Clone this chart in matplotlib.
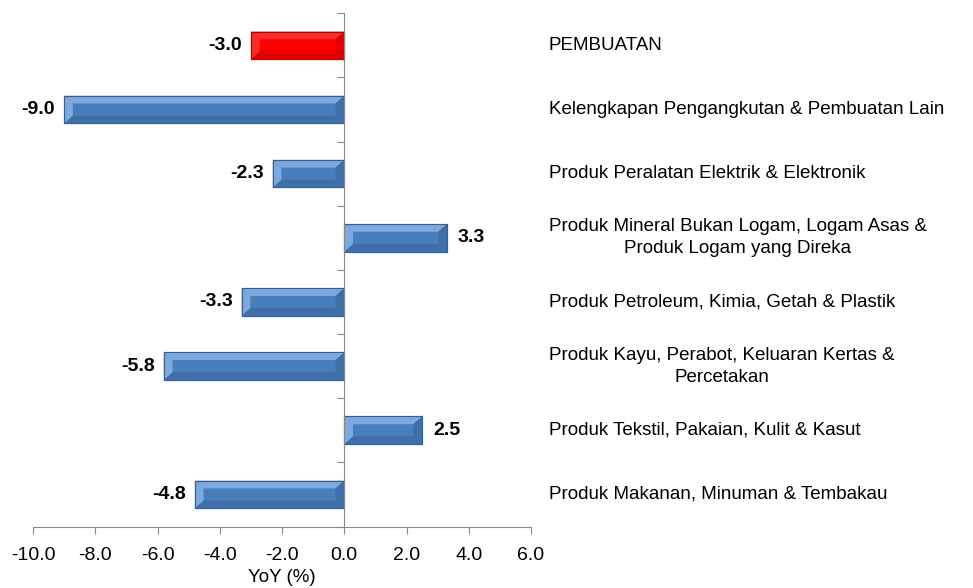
import matplotlib
matplotlib.use("Agg")
import matplotlib.pyplot as plt
from matplotlib.patches import Polygon
import matplotlib.transforms as mtransforms

plt.rcParams['font.family'] = ['Liberation Sans', 'DejaVu Sans']

categories = [
    "PEMBUATAN",
    "Kelengkapan Pengangkutan & Pembuatan Lain",
    "Produk Peralatan Elektrik & Elektronik",
    "Produk Mineral Bukan Logam, Logam Asas &\nProduk Logam yang Direka",
    "Produk Petroleum, Kimia, Getah & Plastik",
    "Produk Kayu, Perabot, Keluaran Kertas &\nPercetakan",
    "Produk Tekstil, Pakaian, Kulit & Kasut",
    "Produk Makanan, Minuman & Tembakau",
]
values = [-3.0, -9.0, -2.3, 3.3, -3.3, -5.8, 2.5, -4.8]
xticks = [-10, -8, -6, -4, -2, 0, 2, 4, 6]

fig = plt.figure(figsize=(9.73, 5.88), dpi=100)
top_px, bot_px = 13.3, 526.5
ax = fig.add_axes([33/973, (588-bot_px)/588, (531-33)/973, (bot_px-top_px)/588])

n = len(categories)
ypos = list(range(n))
bh = 0.43

main_colors = ["#FF0000" if i == 0 else "#4A7EBB" for i in range(n)]
light_colors = ["#FF2A2A" if i == 0 else "#7AAAE2" for i in range(n)]
dark_colors = ["#E00000" if i == 0 else "#3F6FA8" for i in range(n)]
edge_colors = ["#C00000" if i == 0 else "#3A5F8F" for i in range(n)]

bars = ax.barh(ypos, values, height=bh, color=main_colors,
               edgecolor=edge_colors, linewidth=0.8, zorder=2)

# bevel decoration
bx = 0.28  # horizontal bevel in data units
for i, (b, v) in enumerate(zip(bars, values)):
    x0 = min(0, v); x1 = max(0, v)
    y0 = b.get_y(); y1 = y0 + b.get_height()
    by = (y1 - y0) * 0.28
    ax.add_patch(Polygon([(x0, y0), (x1, y0), (x1 - bx, y0 + by), (x0 + bx, y0 + by)],
                         closed=True, facecolor=light_colors[i], edgecolor='none', zorder=3))
    ax.add_patch(Polygon([(x0, y1), (x1, y1), (x1 - bx, y1 - by), (x0 + bx, y1 - by)],
                         closed=True, facecolor=dark_colors[i], edgecolor='none', zorder=3))
    ax.add_patch(Polygon([(x0, y0), (x0 + bx, y0 + by), (x0 + bx, y1 - by), (x0, y1)],
                         closed=True, facecolor=light_colors[i], edgecolor='none', zorder=3))
    ax.add_patch(Polygon([(x1, y0), (x1 - bx, y0 + by), (x1 - bx, y1 - by), (x1, y1)],
                         closed=True, facecolor=dark_colors[i], edgecolor='none', zorder=3))
    ax.add_patch(Polygon([(x0, y0), (x1, y0), (x1, y1), (x0, y1)], closed=True,
                         facecolor='none', edgecolor=edge_colors[i], linewidth=0.8, zorder=4))
    if v < 0:
        off = mtransforms.offset_copy(ax.transData, fig=fig, x=-9, y=0, units='dots')
        ax.text(v, i, f"{v:.1f}", ha='right', va='center', fontsize=14,
                fontweight='bold', transform=off)
    else:
        off = mtransforms.offset_copy(ax.transData, fig=fig, x=11, y=0, units='dots')
        ax.text(v, i, f"{v:.1f}", ha='left', va='center', fontsize=14,
                fontweight='bold', transform=off)

ax.set_xlim(-10, 6)
ax.set_ylim(n - 0.5, -0.5)
ax.set_xticks(xticks)
ax.set_xticklabels([f"{t:.1f}" for t in xticks], fontsize=14)
ax.set_xlabel("YoY (%)", fontsize=13.5, labelpad=3)
ax.tick_params(axis='x', direction='out', length=5, color='#888888', pad=10)

ax.spines['left'].set_position(('data', 0))
ax.set_yticks([i - 0.5 for i in range(n + 1)])
ax.set_yticklabels([])
ax.tick_params(axis='y', direction='out', length=5, color='#888888')

for s in ['top', 'right']:
    ax.spines[s].set_visible(False)
ax.spines['bottom'].set_color('#888888')
ax.spines['left'].set_color('#888888')
ax.spines['left'].set_zorder(5)
ax.set_facecolor('none')

for i, c in enumerate(categories):
    ax.annotate(c, xy=(0, i), xycoords=('figure pixels', 'data'),
                xytext=(549, 0), textcoords=('figure pixels', 'offset pixels'),
                ha='left', va='center', fontsize=13.5, multialignment='center',
                linespacing=1.4, annotation_clip=False)

fig.savefig("out.png", dpi=100)
